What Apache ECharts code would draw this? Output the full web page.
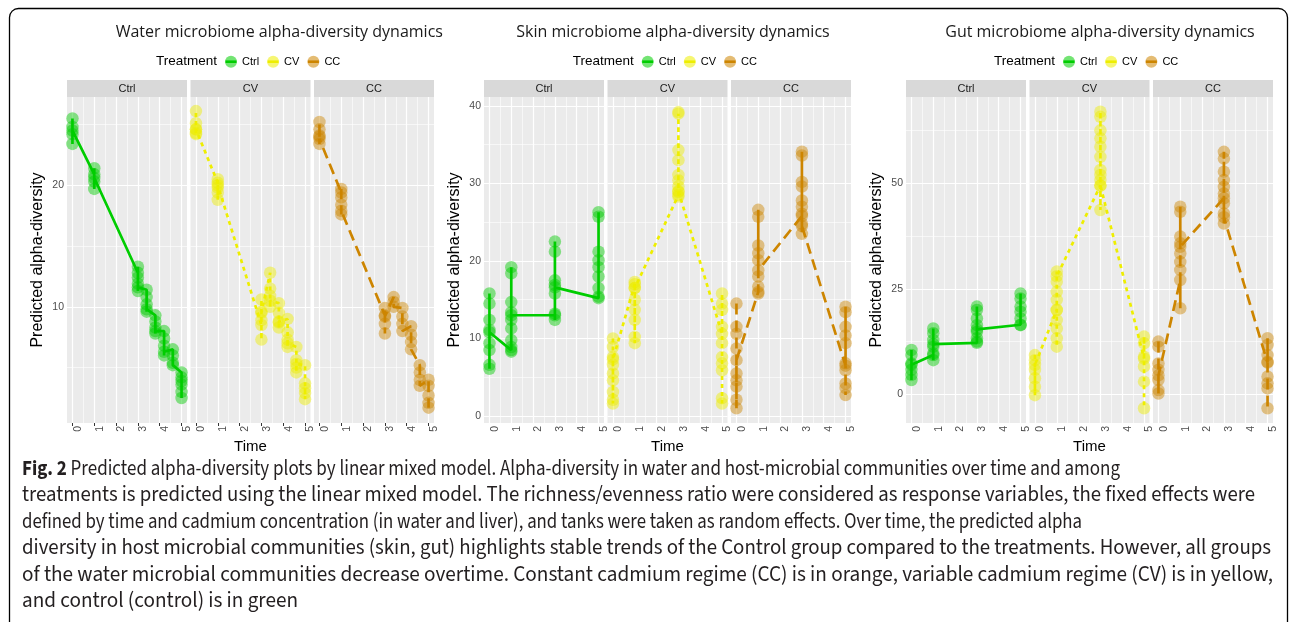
<!DOCTYPE html>
<html><head><meta charset="utf-8">
<script src="https://cdn.jsdelivr.net/npm/echarts@6/dist/echarts.min.js"></script>
<style>html,body{margin:0;padding:0;background:#fff}#chart{width:1290px;height:622px}</style>
</head><body><div id="chart"></div>
<script>
// ---------- data ----------
const facetNames = ['Ctrl', 'CV', 'CC'];
const timeTicks = [0, 1, 2, 3, 4, 5];
const timeMinor = [0.5, 1.5, 2.5, 3.5, 4.5];
const panelTitles = ['Water microbiome alpha-diversity dynamics', 'Skin microbiome alpha-diversity dynamics', 'Gut microbiome alpha-diversity dynamics'];

const waterYRange = [0.44, 27.26];
const waterYTicks = [10, 20];
const waterYMinor = [5, 15, 25];
const skinYRange = [-0.9, 41.15];
const skinYTicks = [0, 10, 20, 30, 40];
const skinYMinor = [5, 15, 25, 35];
const gutYRange = [-6.8, 70.5];
const gutYTicks = [0, 25, 50];
const gutYMinor = [12.5, 37.5, 62.5];

// each cluster: [time, predicted values in drawing order]
const waterCtrl = [
  [0, [23.4, 25.5, 24.8, 24.2, 24.5]],
  [1, [20.9, 21.4, 19.7, 20.3, 20.6]],
  [3, [12.8, 13.3, 12.4, 11.9, 11.3, 11.6]],
  [3.4, [11.4, 10.8, 10.2, 9.6, 9.8]],
  [3.8, [9.3, 8.8, 8.3, 7.8, 8.0]],
  [4.2, [8.0, 7.4, 6.8, 6.0, 6.3]],
  [4.6, [6.5, 6.0, 5.4, 5.2]],
  [5, [4.6, 4.2, 3.6, 3.0, 2.5, 3.9]]
];
const waterCV = [
  [0, [24.3, 26.1, 25.1, 24.6, 24.2, 24.6]],
  [1, [20.2, 20.5, 19.8, 18.8, 19.4, 20.0]],
  [3, [8.5, 10.6, 9.6, 8.9, 7.3, 9.5]],
  [3.4, [12.8, 11.5, 10.9, 10.0, 10.5]],
  [3.8, [10.3, 9.5, 8.7, 8.3, 8.8]],
  [4.2, [9.0, 7.9, 7.3, 6.7, 7.0]],
  [4.6, [6.7, 5.6, 5.0, 4.6, 5.3]],
  [5, [5.2, 3.7, 2.9, 2.4, 3.3]]
];
const waterCC = [
  [0, [24.0, 25.2, 24.6, 24.1, 23.4, 23.8]],
  [1, [19.4, 19.7, 19.0, 18.4, 17.6, 17.9]],
  [3, [9.3, 9.9, 8.6, 7.8, 9.2]],
  [3.4, [10.8, 10.4, 10.0]],
  [3.8, [9.9, 9.2, 8.6, 8.0]],
  [4.2, [8.4, 7.7, 7.1, 6.5]],
  [4.6, [5.2, 4.6, 4.0, 3.5]],
  [5, [4.0, 3.5, 2.7, 2.1, 1.7]]
];

const skinCtrl = [
  [0, [15.8, 14.5, 12.4, 11.1, 9.4, 8.5, 6.6, 6.1, 10.8]],
  [1, [8.5, 8.3, 8.9, 9.8, 11.3, 12.4, 13.4, 14.7, 18.4, 19.2, 13.0]],
  [3, [13.0, 12.4, 13.2, 15.8, 16.9, 17.5, 21.2, 22.5, 16.6]],
  [5, [15.2, 15.4, 16.5, 18.0, 19.2, 20.1, 21.2, 25.7, 26.3]]
];
const skinCV = [
  [0, [10.0, 8.9, 7.6, 6.6, 5.5, 4.6, 3.1, 2.1, 1.6, 7.3]],
  [1, [17.0, 17.3, 16.5, 15.0, 13.7, 12.4, 10.2, 9.4, 16.5]],
  [3, [28.5, 28.3, 28.9, 29.6, 30.4, 31.1, 33.0, 34.3, 39.0, 39.2, 29.0]],
  [5, [10.6, 15.8, 14.5, 13.7, 11.5, 9.4, 7.6, 6.8, 5.9, 2.3, 1.6]]
];
const skinCC = [
  [0, [14.5, 11.5, 10.6, 8.7, 5.5, 4.6, 3.8, 2.1, 1.0, 7.2]],
  [1, [16.0, 15.8, 16.7, 18.0, 20.1, 21.0, 22.0, 25.7, 26.6, 18.8]],
  [3, [25.8, 23.5, 24.8, 26.1, 27.0, 27.8, 29.6, 30.2, 33.6, 34.1, 24.5]],
  [5, [6.5, 14.1, 13.4, 11.5, 10.4, 9.4, 6.8, 5.9, 4.2, 3.6, 2.7]]
];

const gutCtrl = [
  [0, [10.5, 9.3, 7.3, 5.8, 4.6, 3.4, 7.0]],
  [1, [9.3, 8.1, 9.7, 11.3, 12.9, 14.5, 15.6, 11.9]],
  [3, [12.2, 12.5, 13.3, 14.8, 16.4, 18.0, 20.0, 20.8, 15.4]],
  [5, [16.5, 16.4, 18.0, 19.6, 20.8, 22.7, 23.9]]
];
const gutCV = [
  [0, [9.3, 8.1, 5.8, 3.8, 1.8, -0.2, 7.0]],
  [1, [20.0, 11.3, 13.3, 15.6, 17.6, 20.0, 22.4, 24.3, 26.7, 29.1, 28.0]],
  [3, [49.5, 43.7, 50.8, 52.0, 53.2, 56.3, 58.7, 60.7, 62.6, 65.8, 67.0, 49.5]],
  [5, [8.5, 13.7, 12.1, 8.9, 6.6, 3.0, -3.3]]
];
const gutCC = [
  [0, [12.5, 11.3, 7.3, 5.8, 3.4, 1.0, 0.2, 4.5]],
  [1, [27.1, 20.4, 29.5, 31.4, 33.4, 35.8, 37.4, 43.3, 44.5, 35.0]],
  [3, [46.5, 40.5, 42.9, 45.3, 47.6, 49.2, 50.8, 52.8, 55.9, 57.5, 42.0]],
  [5, [7.5, 13.3, 11.7, 9.3, 7.7, 4.2, 2.6, 1.4, -3.3]]
];

const captionLines = [
  '{b|Fig. 2} Predicted alpha-diversity plots by linear mixed model. Alpha-diversity in water and host-microbial communities over time and among',
  'treatments is predicted using the linear mixed model. The richness/evenness ratio were considered as response variables, the fixed effects were',
  'defined by time and cadmium concentration (in water and liver), and tanks were taken as random effects. Over time, the predicted alpha',
  'diversity in host microbial communities (skin, gut) highlights stable trends of the Control group compared to the treatments. However, all groups',
  'of the water microbial communities decrease overtime. Constant cadmium regime (CC) is in orange, variable cadmium regime (CV) is in yellow,',
  'and control (control) is in green'
];

// ---------- layout / style ----------
const COLORS = { Ctrl: '#00CD00', CV: '#EEEE00', CC: '#CD8500' };
const LTYPE = { Ctrl: 'solid', CV: [4, 4], CC: [11, 6] };
const L = { panelLeft: [67, 484, 906], facetW: 120, facetStep: 123.5, top: 97, bottom: 423, stripTop: 80,
  titleX: [279.3, 673, 1100], titleY: 32.3, legendTitleX: [156, 572.7, 994], legendY: 61.7,
  captionX: 22, captionEnd: [1120, 1255, 1082, 1271, 1273, 298], captionY: [470, 496.5, 523, 549.5, 576, 602.5] };
const AXIS_FONT = "'Liberation Sans', Arial, sans-serif";

const panels = [
  { data: [waterCtrl, waterCV, waterCC], yRange: waterYRange, yTicks: waterYTicks, yMinor: waterYMinor },
  { data: [skinCtrl, skinCV, skinCC], yRange: skinYRange, yTicks: skinYTicks, yMinor: skinYMinor },
  { data: [gutCtrl, gutCV, gutCC], yRange: gutYRange, yTicks: gutYTicks, yMinor: gutYMinor }
];

function flatten(clusters) {
  const pts = [];
  clusters.forEach(([t, vals]) => vals.forEach(v => pts.push([t, v])));
  return pts;
}

const measureCtx = document.createElement('canvas').getContext('2d');
function textW(str, font) { measureCtx.font = font; return measureCtx.measureText(str).width; }

const grid = [], xAxis = [], yAxis = [], series = [], graphic = [];

panels.forEach((p, pi) => {
  facetNames.forEach((fname, fi) => {
    const g = grid.length;
    const left = L.panelLeft[pi] + fi * L.facetStep;
    grid.push({ left: left, top: L.top, width: L.facetW, height: L.bottom - L.top, show: true,
      backgroundColor: '#EBEBEB', borderWidth: 0, containLabel: false });
    xAxis.push({ gridIndex: g, type: 'value', min: -0.25, max: 5.25,
      axisLine: { show: false }, splitLine: { show: false },
      axisTick: { show: true, customValues: timeTicks, length: 3, lineStyle: { color: '#333', width: 1 } },
      axisLabel: { show: true, customValues: timeTicks, rotate: 90, fontSize: 10.5, color: '#4D4D4D', margin: 3,
        fontFamily: AXIS_FONT, verticalAlign: 'top' },
      name: fi === 1 ? 'Time' : '', nameLocation: 'middle', nameGap: 11,
      nameTextStyle: { fontSize: 15, color: '#000', fontFamily: AXIS_FONT, verticalAlign: 'top' } });
    yAxis.push({ gridIndex: g, type: 'value', min: p.yRange[0], max: p.yRange[1],
      axisLine: { show: false }, splitLine: { show: false },
      axisTick: { show: fi === 0, customValues: p.yTicks, length: 3, lineStyle: { color: '#333', width: 1 } },
      axisLabel: { show: fi === 0, customValues: p.yTicks, fontSize: 10.5, color: '#4D4D4D', margin: 3, fontFamily: AXIS_FONT },
      name: fi === 0 ? 'Predicted alpha-diversity' : '', nameLocation: 'middle', nameGap: 21, nameRotate: 90,
      nameTextStyle: { fontSize: 16, color: '#000', fontFamily: AXIS_FONT } });

    const gl = [];
    timeTicks.forEach(v => gl.push({ xAxis: v, lineStyle: { color: '#fff', width: 1.2, type: 'solid' } }));
    timeMinor.forEach(v => gl.push({ xAxis: v, lineStyle: { color: '#fff', width: 0.6, type: 'solid' } }));
    p.yTicks.forEach(v => gl.push({ yAxis: v, lineStyle: { color: '#fff', width: 1.2, type: 'solid' } }));
    p.yMinor.forEach(v => gl.push({ yAxis: v, lineStyle: { color: '#fff', width: 0.6, type: 'solid' } }));
    series.push({ type: 'line', name: '_grid', xAxisIndex: g, yAxisIndex: g, data: [], silent: true, z: 1,
      markLine: { silent: true, z: 1, symbol: ['none', 'none'], animation: false, label: { show: false },
        emphasis: { disabled: true }, data: gl } });

    const pts = flatten(p.data[fi]);
    series.push({ type: 'scatter', name: fname, xAxisIndex: g, yAxisIndex: g, data: pts, symbol: 'circle',
      symbolSize: 12.5, itemStyle: { color: COLORS[fname], opacity: 0.45 }, z: 2, silent: true, animation: false });
    series.push({ type: 'line', name: fname, xAxisIndex: g, yAxisIndex: g, data: pts, showSymbol: false,
      symbol: 'none', lineStyle: { color: COLORS[fname], width: 2.7, type: LTYPE[fname] }, z: 3, silent: true, animation: false });

    // facet strip
    graphic.push({ type: 'rect', shape: { x: left, y: L.stripTop, width: L.facetW, height: L.top - L.stripTop },
      style: { fill: '#D9D9D9' }, silent: true });
    graphic.push({ type: 'text', x: left + L.facetW / 2, y: (L.stripTop + L.top) / 2 + 0.5, silent: true,
      style: { text: fname, align: 'center', verticalAlign: 'middle', fontSize: 11, fontFamily: AXIS_FONT, fill: '#1A1A1A' } });
  });
  // panel title
  graphic.push({ type: 'text', x: L.titleX[pi], y: L.titleY, silent: true,
    style: { text: panelTitles[pi], align: 'center', verticalAlign: 'middle', fontSize: 16,
      fontFamily: "'Open Sans', sans-serif", fill: '#1A1A1A' } });
  // legend title
  graphic.push({ type: 'text', x: L.legendTitleX[pi], y: L.legendY, silent: true,
    style: { text: 'Treatment', align: 'left', verticalAlign: 'middle', fontSize: 13.5, fontFamily: AXIS_FONT, fill: '#000' } });
});

// legends (one per panel) + key lines drawn through the legend circles
const LEG = { icon: 12, textGap: 5, itemGap: 8, offset: 69, font: '11px ' + AXIS_FONT };
const legend = L.legendTitleX.map(x => ({
  left: x + LEG.offset, top: L.legendY - LEG.icon / 2, padding: 0, itemWidth: LEG.icon, itemHeight: LEG.icon,
  itemGap: LEG.itemGap, icon: 'circle', selectedMode: false,
  data: facetNames.map(n => ({ name: n, itemStyle: { color: COLORS[n], opacity: 0.55 } })),
  textStyle: { fontSize: 11, color: '#000', fontFamily: AXIS_FONT }
}));
L.legendTitleX.forEach(x => {
  let cx = x + LEG.offset;
  facetNames.forEach(n => {
    graphic.push({ type: 'rect', silent: true, z: 10,
      shape: { x: cx + 0.5, y: L.legendY - 1.3, width: LEG.icon - 1, height: 2.6 }, style: { fill: COLORS[n] } });
    cx += LEG.icon + LEG.textGap + textW(n, LEG.font) + LEG.itemGap;
  });
});

// outer rounded frame
graphic.push({ type: 'rect', shape: { x: 9.5, y: 8.5, width: 1278, height: 700, r: 9 },
  style: { fill: 'none', stroke: '#000', lineWidth: 1.3 }, silent: true, z: 100 });

// caption, each line fitted horizontally to its reference length (condensed face)
const CAPTION_FONT = "'Source Sans 3', 'Source Sans Pro', 'Open Sans', sans-serif";
const CAPTION_SIZE = 21.5;
captionLines.forEach((t, i) => {
  const plain = t.replace('{b|Fig. 2}', '');
  let w = textW(plain, CAPTION_SIZE + 'px ' + CAPTION_FONT);
  if (plain !== t) w += textW('Fig. 2', 'bold ' + CAPTION_SIZE + 'px ' + CAPTION_FONT);
  const s = (L.captionEnd[i] - L.captionX) / w;
  graphic.push({ type: 'text', x: L.captionX, y: L.captionY[i], scaleX: s, silent: true,
    style: { text: t, verticalAlign: 'middle', fontSize: CAPTION_SIZE, fontFamily: CAPTION_FONT, fill: '#231F20',
      rich: { b: { fontWeight: 'bold', fontSize: CAPTION_SIZE, fontFamily: CAPTION_FONT, fill: '#231F20' } } } });
});

const chart = echarts.init(document.getElementById('chart'), null, { renderer: 'canvas' });
chart.setOption({ backgroundColor: '#fff', animation: false, grid, xAxis, yAxis, series, legend, graphic });
</script>
</body></html>
